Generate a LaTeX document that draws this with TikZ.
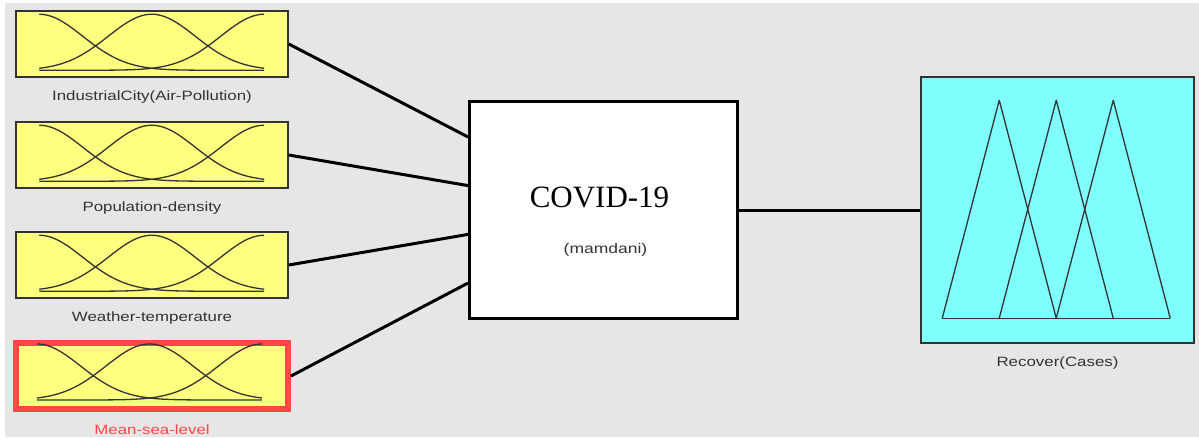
\documentclass[tikz,border=0pt]{standalone}
\usepackage{fontspec}
\setmainfont{Liberation Serif}
\newfontfamily\labelfont[FakeStretch=1.25]{Liberation Sans}
\usetikzlibrary{calc}
\definecolor{panel}{HTML}{E6E6E6}
\definecolor{mfin}{HTML}{FFFF80}
\definecolor{mfout}{HTML}{80FFFF}
\definecolor{selred}{HTML}{FF4646}
\definecolor{edge}{HTML}{333333}
\begin{document}
\begin{tikzpicture}[x=1pt,y=-1pt,
  inbox/.style={draw=edge, line width=1.5pt, fill=mfin, minimum width=272pt,
    minimum height=66pt, inner sep=0pt},
  selbox/.style={inbox, draw=selred, line width=6pt},
  fisbox/.style={draw=black, line width=3pt, fill=white, minimum width=268pt,
    minimum height=217pt, inner sep=0pt},
  outbox/.style={draw=edge, line width=1.5pt, fill=mfout, minimum width=273pt,
    minimum height=266pt, inner sep=0pt},
  lab/.style={font=\labelfont\fontsize{13.5pt}{16pt}\selectfont, text=edge, inner sep=0pt},
  mfline/.style={draw=black!80, line width=1.3pt, line join=round},
  wire/.style={draw=black, line width=3pt}]

% canvas
\useasboundingbox (0,0) rectangle (1199,437);
\fill[white] (0,0) rectangle (1199,437);
\fill[panel] (5,3) rectangle (1199,437);

% input variables
\node[inbox]  (in1) at (152,44)  {};
\node[inbox]  (in2) at (152,155) {};
\node[inbox]  (in3) at (152,265) {};
\node[selbox] (in4) at (152,376) {};

% gaussian membership functions of each input
\foreach \n in {in1,in2,in3,in4}{
  \begin{scope}[shift={(\n.north west)}]
    \foreach \c in {0,0.5,1}
      \draw[mfline] plot[domain=0:1, samples=90, smooth]
        ({24+225*\x},{60-56*exp(((\x-\c)^2)/(-0.075))});
  \end{scope}
}

\node[lab] (lin1) at ($(in1.south)+(0,19.5)$) {IndustrialCity(Air-Pollution)};
\node[lab] (lin2) at ($(in2.south)+(0,19.5)$) {Population-density};
\node[lab] (lin3) at ($(in3.south)+(0,19.5)$) {Weather-temperature};
\node[lab, text=selred] (lin4) at ($(in4.south)+(0,18)$) {Mean-sea-level};

% inference system
\node[fisbox] (fis) at (603.5,210) {};
\node[font=\fontsize{31pt}{36pt}\selectfont, inner sep=0pt] (title)
  at ($(fis.center)+(-4,-13)$) {COVID-19};
\node[lab, font=\labelfont\fontsize{14pt}{16pt}\selectfont] (kind)
  at ($(fis.center)+(2,40)$) {(mamdani)};

% output variable
\node[outbox] (out) at (1057.5,210) {};
\begin{scope}[shift={(out.north west)}]
  \draw[mfline] (22,242) -- (79,24) -- (136,242);
  \draw[mfline] (79,242) -- (136,24) -- (193,242);
  \draw[mfline] (136,242) -- (193,24) -- (250,242);
  \draw[mfline] (22,242) -- (250,242);
\end{scope}
\node[lab] (lout) at ($(out.south)+(0,19)$) {Recover(Cases)};

% connections
\draw[wire] (in1.east) -- ($(fis.north west)!0.168!(fis.south west)$);
\draw[wire] (in2.east) -- ($(fis.north west)!0.389!(fis.south west)$);
\draw[wire] (in3.east) -- ($(fis.north west)!0.611!(fis.south west)$);
\draw[wire] (in4.east) -- ($(fis.north west)!0.832!(fis.south west)$);
\draw[wire] (fis.east) -- (out.west);
\end{tikzpicture}
\end{document}
